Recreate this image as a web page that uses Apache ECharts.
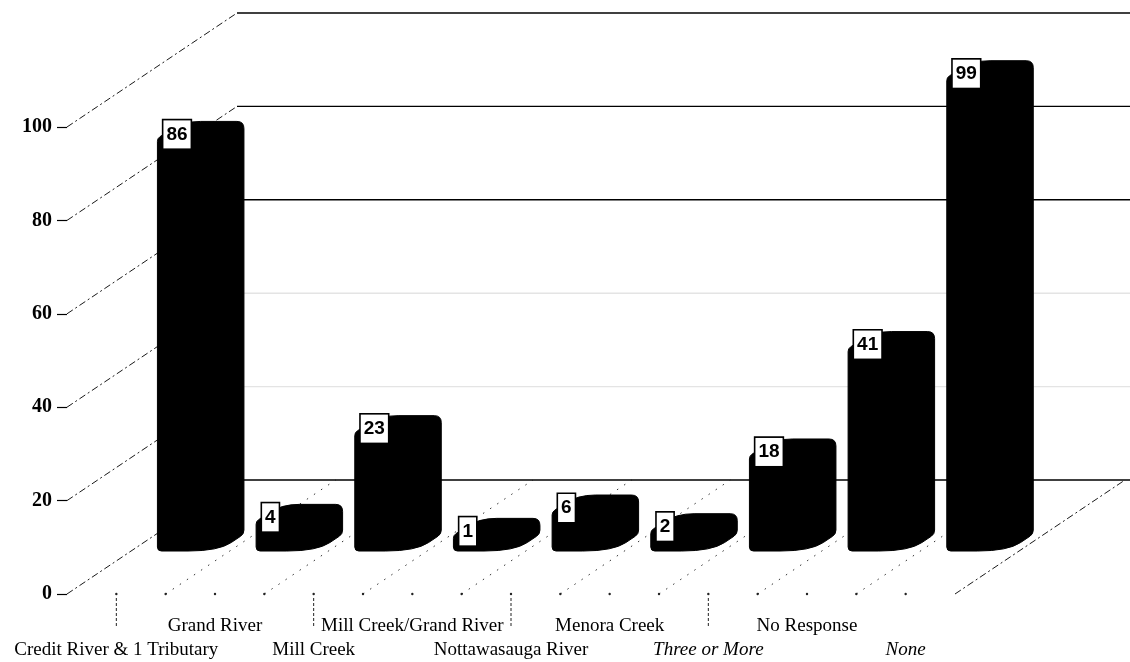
<!DOCTYPE html>
<html>
<head>
<meta charset="utf-8">
<script src="https://cdn.jsdelivr.net/npm/echarts@6/dist/echarts.min.js"></script>
<style>
  html, body { margin: 0; padding: 0; background: #fff; }
  #chart { width: 1130px; height: 662px; }
</style>
</head>
<body>
<div id="chart"></div>
<script>
// Streams named by respondents and how many named each
const categories = [
  'Credit River & 1 Tributary', 'Grand River', 'Mill Creek', 'Mill Creek/Grand River',
  'Nottawasauga River', 'Menora Creek', 'Three or More', 'No Response', 'None'
];
const counts = [86, 4, 23, 1, 6, 2, 18, 41, 99];
const yTicks = [0, 20, 40, 60, 80, 100];
const fadedGridValues = [20, 40];
const italicCategories = ['Three or More', 'None'];

// Oblique projection: pixel offset from the front edge of the floor to the back wall
const DEPTH = [170, -114];
// Bar solid, as fractions of the category band and of the floor depth
const BAR = { shift: -0.233, frontWidth: 0.62, near: 0.377, far: 0.526, cap: 11 };

const SERIF = '"Liberation Serif", "Times New Roman", serif';

function proj(x, y, f) { return [x + f * DEPTH[0], y + f * DEPTH[1]]; }

function toward(p, q, r) {
  const dx = q[0] - p[0], dy = q[1] - p[1];
  const len = Math.hypot(dx, dy) || 1;
  const t = Math.min(r, len / 2) / len;
  return [p[0] + dx * t, p[1] + dy * t];
}

// Closed polygon path with each corner rounded by a quadratic curve
function roundedPath(pts, radii) {
  const n = pts.length;
  let d = '';
  for (let k = 0; k < n; k++) {
    const p = pts[k], prev = pts[(k - 1 + n) % n], next = pts[(k + 1) % n];
    const a = toward(p, prev, radii[k]), b = toward(p, next, radii[k]);
    d += (k === 0 ? 'M' : 'L') + a[0].toFixed(2) + ' ' + a[1].toFixed(2) +
         ' Q' + p[0].toFixed(2) + ' ' + p[1].toFixed(2) + ' ' + b[0].toFixed(2) + ' ' + b[1].toFixed(2) + ' ';
  }
  return d + 'Z';
}

// Left-wall diagonals and back-wall gridlines, one per y tick
function renderWall(params, api) {
  const v = api.value(1);
  const cs = params.coordSys;
  const y = api.coord([0, v])[1];
  const left = cs.x, right = cs.x + cs.width;
  const b = proj(left, y, 1), c = proj(right, y, 1);
  const faded = fadedGridValues.indexOf(v) >= 0;
  return {
    type: 'group',
    children: [
      { type: 'line', shape: { x1: left, y1: y, x2: b[0], y2: b[1] },
        style: { stroke: '#1a1a1a', lineWidth: 1, lineDash: [7, 3, 2, 3] } },
      { type: 'line', shape: { x1: b[0], y1: b[1], x2: c[0] + 6, y2: c[1] },
        style: { stroke: faded ? '#e4e4e4' : '#000', lineWidth: 1.4 } }
    ]
  };
}

// Floor: dotted depth lines at band edges, front-edge dots, label leaders
function renderFloor(params, api) {
  const i = api.value(0);
  const B = api.size([1, 0])[0];
  const p = api.coord([i, 0]);
  const x0 = p[0] - B / 2, y0 = p[1];
  const children = [];
  const dotStyle = { stroke: '#333', lineWidth: 1, lineDash: [1.5, 7] };
  if (i > 0) {
    const e = proj(x0, y0, 1);
    children.push({ type: 'line', shape: { x1: x0, y1: y0, x2: e[0], y2: e[1] }, style: dotStyle });
    children.push({ type: 'circle', shape: { cx: x0, cy: y0, r: 1.2 }, style: { fill: '#222' } });
  }
  children.push({ type: 'circle', shape: { cx: p[0], cy: y0, r: 1.2 }, style: { fill: '#222' } });
  if (i === categories.length - 1) {
    const xr = x0 + B, e = proj(xr, y0, 1);
    children.push({ type: 'line', shape: { x1: xr, y1: y0, x2: e[0], y2: e[1] },
      style: { stroke: '#1a1a1a', lineWidth: 1, lineDash: [7, 3, 2, 3] } });
  }
  if (i % 2 === 0 && i < categories.length - 1) {
    children.push({ type: 'line', shape: { x1: p[0], y1: y0 + 4, x2: p[0], y2: y0 + 32 },
      style: { stroke: '#222', lineWidth: 1, lineDash: [3, 2] } });
  }
  return { type: 'group', children: children };
}

// Solid rounded bar with its count in a boxed label at the top-left corner
function renderBar(params, api) {
  const i = api.value(0), v = api.value(1);
  const B = api.size([1, 0])[0];
  const base = api.coord([i, 0]), top = api.coord([i, v]);
  const xl = base[0] + BAR.shift * B, xr = xl + BAR.frontWidth * B;
  const yt = top[1] - BAR.cap;
  const FBL = proj(xl, base[1], BAR.near), FBR = proj(xr, base[1], BAR.near), BBR = proj(xr, base[1], BAR.far);
  const BTR = proj(xr, yt, BAR.far), BTL = proj(xl, yt, BAR.far), FTL = proj(xl, yt, BAR.near);
  const path = roundedPath([FBL, FBR, BBR, BTR, BTL, FTL], [4, 40, 4, 7, 18, 3]);
  return {
    type: 'group',
    children: [
      { type: 'path', shape: { pathData: path }, style: { fill: '#000', stroke: '#000', lineWidth: 1 } },
      { type: 'text', x: FTL[0] + 6, y: FTL[1] - 4, z2: 10,
        style: {
          text: String(v), fill: '#000',
          font: 'bold 19px "Liberation Sans", Arial, sans-serif',
          align: 'left', verticalAlign: 'middle',
          backgroundColor: '#fff', borderColor: '#000', borderWidth: 1.6,
          padding: [5, 3, 4, 3]
        } }
    ]
  };
}

const chart = echarts.init(document.getElementById('chart'), null, { renderer: 'canvas' });
chart.setOption({
  animation: false,
  backgroundColor: '#fff',
  grid: { left: 67, right: 175, top: 127, bottom: 63 },
  xAxis: {
    type: 'category',
    data: categories,
    boundaryGap: true,
    axisLine: { show: false },
    axisTick: { show: false },
    axisLabel: {
      interval: 0,
      margin: 20,
      lineHeight: 24,
      fontSize: 19,
      fontFamily: SERIF,
      color: '#000',
      formatter: function (val, idx) {
        const t = italicCategories.indexOf(val) >= 0 ? '{it|' + val + '}' : '{n|' + val + '}';
        return idx % 2 === 0 ? '\n' + t : t;
      },
      rich: {
        n: { fontSize: 19, lineHeight: 24, fontFamily: SERIF, color: '#000' },
        it: { fontSize: 19, lineHeight: 24, fontStyle: 'italic', fontFamily: SERIF, color: '#000' }
      }
    }
  },
  yAxis: {
    type: 'value',
    min: 0, max: 100, interval: 20,
    axisLine: { show: false },
    axisTick: { show: true, length: 10, lineStyle: { color: '#000', width: 1.2 } },
    splitLine: { show: false },
    axisLabel: {
      margin: 15,
      fontSize: 20,
      fontWeight: 'bold',
      fontFamily: SERIF,
      color: '#000'
    }
  },
  series: [
    { type: 'custom', name: 'floor', silent: true, z: 1, renderItem: renderFloor,
      encode: { x: 0, y: 1 }, data: categories.map((c, i) => [i, 0]) },
    { type: 'custom', name: 'wall', silent: true, z: 2, renderItem: renderWall,
      encode: { x: 0, y: 1 }, data: yTicks.map(v => [0, v]) },
    { type: 'custom', name: 'Respondents', silent: true, z: 5, renderItem: renderBar,
      encode: { x: 0, y: 1 }, data: counts.map((v, i) => [i, v]) }
  ]
});
</script>
</body>
</html>
